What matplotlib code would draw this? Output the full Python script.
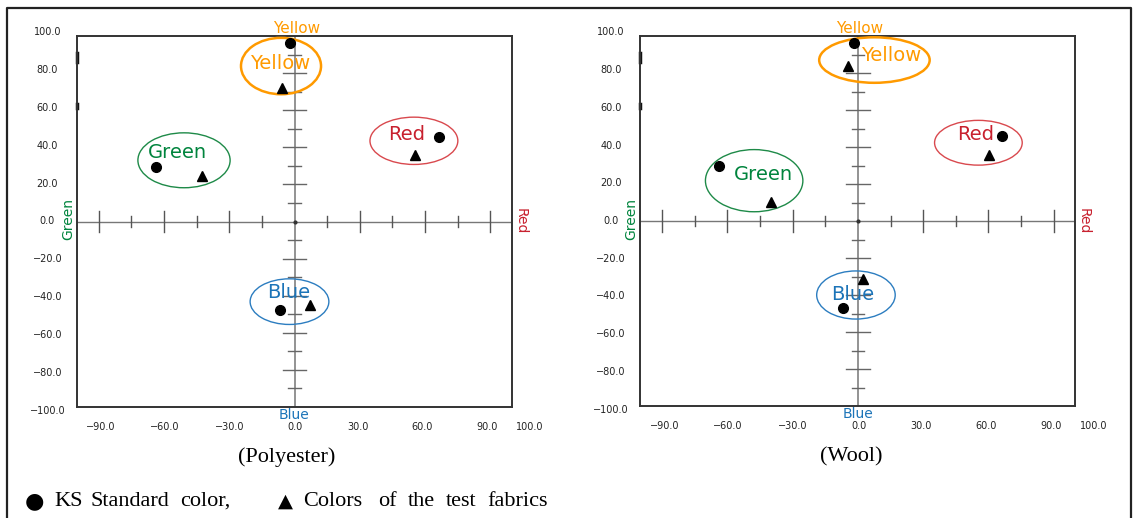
import matplotlib
matplotlib.use("Agg")
import matplotlib.pyplot as plt
from matplotlib.patches import Ellipse
from matplotlib.lines import Line2D

# ---------------- data ----------------
categories = ["Yellow", "Green", "Red", "Blue"]
cat_colors = ["#FF9A00", "#00843D", "#C8202E", "#1C74B8"]
ell_edge = ["#FF9A00", "#1E8A48", "#D9494E", "#2C7DC0"]

poly_ks_x = [-2.1, -63.8, 66.4, -6.7]
poly_ks_y = [96.1, 29.3, 45.8, -47.6]
poly_test_x = [-5.9, -42.6, 55.4, 6.9]
poly_test_y = [72.0, 24.4, 35.6, -44.9]

wool_ks_x = [-2.0, -63.7, 66.3, -6.7]
wool_ks_y = [96.1, 29.5, 46.0, -47.0]
wool_test_x = [-4.4, -39.9, 60.2, 2.3]
wool_test_y = [83.7, 10.1, 35.7, -31.4]

# annotation ellipses (center x, center y, width, height) and label positions
poly_ell = [(-6.2, 83.8, 36.8, 30.4), (-50.8, 33.0, 42.4, 29.6),
            (54.9, 43.5, 40.4, 25.5), (-2.3, -43.2, 36.2, 24.6)]
poly_lab = [(-6.4, 85.0), (-53.6, 37.4), (51.6, 46.9), (-2.6, -38.4)]
wool_ell = [(7.6, 87.0, 50.8, 24.6), (-47.7, 21.8, 44.8, 33.6),
            (55.4, 42.3, 40.3, 24.2), (-0.9, -40.0, 36.1, 26.0)]
wool_lab = [(15.4, 89.5), (-43.6, 25.3), (54.0, 46.7), (-2.2, -39.9)]

y_tick_values = [100, 80, 60, 40, 20, 0, -20, -40, -60, -80, -100]
x_tick_values = [-90, -60, -30, 0, 30, 60, 90, 100]
x_tick_pos = [-89.0, -59.7, -29.8, 0.3, 29.1, 58.7, 88.6, 108.3]
h_axis_ticks = [-90, -75, -60, -45, -30, -15, 15, 30, 45, 60, 75, 90]
v_axis_ticks = [-90, -80, -70, -60, -50, -40, -30, -20, -10,
                10, 20, 30, 40, 50, 60, 70, 80, 90]

panel_titles = ["(Polyester)", "(Wool)"]
legend_words = ["KS", "Standard", "color,", "Colors", "of", "the", "test", "fabrics"]

W, H = 1133, 518
fig = plt.figure(figsize=(W / 100, H / 100), dpi=100)

def fx(px):
    return px / W

def fy(py):
    return 1 - py / H

axes_rects = [
    [fx(77), fy(407), fx(435), 371 / H],
    [fx(640.4), fy(406), fx(435), 370 / H],
]

panels = [
    (poly_ks_x, poly_ks_y, poly_test_x, poly_test_y, poly_ell, poly_lab),
    (wool_ks_x, wool_ks_y, wool_test_x, wool_test_y, wool_ell, wool_lab),
]

for rect, (kx, ky, tx, ty, ells, labs) in zip(axes_rects, panels):
    ax = fig.add_axes(rect)
    ax.set_xlim(-100, 100)
    ax.set_ylim(-100, 100)
    ax.set_xticks([])
    ax.set_yticks([])
    for sp in ax.spines.values():
        sp.set_color("#333333")
        sp.set_linewidth(1.4)

    # central axes
    ax.plot([-100, 100], [0, 0], color="#777777", lw=1.0, zorder=1)
    ax.plot([0, 0], [-100, 100], color="#8a8a8a", lw=1.3, zorder=1)
    ax.plot([0], [0], marker="o", ms=2, color="#333333", zorder=2)
    for t in h_axis_ticks:
        hl = 5.9 if t % 30 == 0 else 2.7
        ax.plot([t, t], [-hl, hl], color="#555555", lw=1.0, zorder=1)
    for t in v_axis_ticks:
        hl = 5.5 if t % 20 == 0 else 2.8
        ax.plot([-hl, hl], [t, t], color="#666666", lw=1.0, zorder=1)

    # small artefact marks on the left frame
    ax.plot([-100, -100], [86, 91], color="#111111", lw=2.5, clip_on=False)
    ax.plot([-100, -100], [61, 63.5], color="#111111", lw=2.5, clip_on=False)

    # tick labels
    for v in y_tick_values:
        ax.text(-113.6, v * 1.02, f"{v:.1f}".replace("-", "\u2212"),
                ha="center", va="center", fontsize=7, color="#222222")
    for v, p in zip(x_tick_values, x_tick_pos):
        ax.text(p, -110.8, f"{v:.1f}".replace("-", "\u2212"),
                ha="center", va="center", fontsize=7, color="#222222")

    # side colour labels
    ax.text(1, 104, "Yellow", color=cat_colors[0], fontsize=11,
            ha="center", va="center")
    ax.text(0, -104.5, "Blue", color=cat_colors[3], fontsize=10,
            ha="center", va="center")
    ax.text(-104.1, 1.3, "Green", color=cat_colors[1], fontsize=10,
            ha="center", va="center", rotation=90)
    ax.text(104.0, 0, "Red", color=cat_colors[2], fontsize=10,
            ha="center", va="center", rotation=270)

    # ellipses and labels
    for i, (cat, (cx, cy, ew, eh), (lx, ly)) in enumerate(zip(categories, ells, labs)):
        lw = 1.8 if cat == "Yellow" else 1.0
        ax.add_patch(Ellipse((cx, cy), ew, eh, fill=False,
                             edgecolor=ell_edge[i], lw=lw, zorder=3))
        ax.text(lx, ly, cat, color=cat_colors[i], fontsize=14,
                ha="center", va="center", zorder=4)

    ax.plot(kx, ky, linestyle="none", marker="o", ms=7, color="black", zorder=5)
    ax.plot(tx, ty, linestyle="none", marker="^", ms=7, color="black", zorder=5)

# panel titles
fig.text(fx(287), fy(457), panel_titles[0], ha="center", va="center",
         fontsize=16, family="Liberation Serif")
fig.text(fx(851), fy(457), panel_titles[1], ha="center", va="center",
         fontsize=16, family="Liberation Serif")

# legend line
ly = fy(501)
fig.text(fx(34.5), ly, "\u25CF", ha="center", va="center", fontsize=16,
         family="DejaVu Sans")
fig.text(fx(285), ly, "\u25B2", ha="center", va="center", fontsize=14,
         family="DejaVu Sans")
word_x = [54, 90, 180, 303, 378, 408, 446, 487]
for w, x in zip(legend_words, word_x):
    fig.text(fx(x), ly, w, ha="left", va="center", fontsize=16,
             family="Liberation Serif")

# outer border (open at the bottom)
bx = [fx(7), fx(7), fx(1131), fx(1131)]
by = [0, fy(7.5), fy(7.5), 0]
fig.add_artist(Line2D(bx, by, color="#222222", lw=1.6,
                      transform=fig.transFigure))

fig.savefig("out.png", dpi=100)
